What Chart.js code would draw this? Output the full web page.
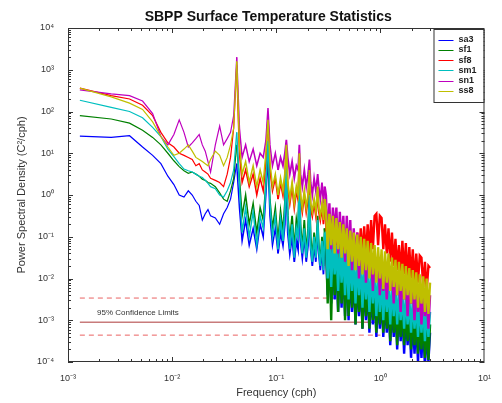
<!DOCTYPE html>
<html>
<head>
<meta charset="utf-8">
<script src="https://cdn.jsdelivr.net/npm/chart.js@4.4.1/dist/chart.umd.min.js"></script>
<style>
  html, body { margin: 0; padding: 0; background: #fff; }
</style>
</head>
<body>
<canvas id="grafico" width="502" height="403"></canvas>
<script>
// frecuencias (cph)
const frecuencias = [
  0.0013, 0.0026, 0.0039, 0.0052, 0.0065, 0.0078, 0.0091, 0.0104, 0.0117, 0.013,
  0.0143, 0.0156, 0.0169, 0.0182, 0.0195, 0.0208, 0.0221, 0.0234, 0.026, 0.0286,
  0.0312, 0.0338, 0.0364, 0.039, 0.0417,
  0.0443, 0.047, 0.0508, 0.055, 0.06, 0.065, 0.07, 0.075, 0.0795, 0.0833,
  0.087, 0.092, 0.098, 0.104, 0.11, 0.116, 0.121, 0.125, 0.129, 0.135,
  0.142, 0.149, 0.156, 0.162, 0.1667, 0.171, 0.178, 0.186, 0.194, 0.202,
  0.2083, 0.214, 0.222, 0.231, 0.24, 0.25, 0.256, 0.265, 0.275, 0.284, 0.2917,
  0.30, 0.312, 0.324, 0.337, 0.35, 0.364, 0.378, 0.393, 0.408, 0.424,
  0.441, 0.458, 0.476, 0.495, 0.514, 0.534, 0.555, 0.577, 0.6, 0.623,
  0.648, 0.673, 0.699, 0.727, 0.755, 0.785, 0.815, 0.847, 0.88, 0.915,
  0.951, 0.988, 1.027, 1.067, 1.108, 1.152, 1.197, 1.244, 1.292, 1.343,
  1.396, 1.45, 1.507, 1.566, 1.627, 1.691, 1.757, 1.826, 1.897, 1.971,
  2.048, 2.128, 2.212, 2.298, 2.388, 2.481, 2.578, 2.679, 2.784, 2.893, 3.0
];

// log10 de la densidad espectral
const sa3 = [
  1.41, 1.38, 1.42, 1.15, 0.95, 0.75, 0.45, 0.25, 0.0, -0.05, 0.1, 0.0, -0.15, -0.25, -0.6, -0.45, -0.35, -0.5, -0.55, -0.7, -0.45, -0.3, -0.1, 0.3, 0.75,
  -0.3, -1.1, -0.6, -1.2, -0.8, -1.3, -0.7, -1.0, 0.0, 0.9, -0.5, -1.2, -0.8, -1.4, -0.9, -1.2, -0.7, 0.5, -0.9, -1.4, -1.0, -1.6, -1.1, -1.3, 0.2,
  -1.1, -1.5, -1.0, -1.6, -1.2, -0.2, -1.3, -1.7, -1.2, -1.6, -0.8, -1.4, -1.8, -1.3, -1.9, -1.1,
  -1.2, -2.4, -1.3, -2.6, -1.4, -2.5, -1.5, -2.8, -1.55, -2.7, -1.65, -2.9, -1.7, -3.0, -1.8, -2.8, -1.9, -3.1, -1.95, -2.9,
  -2.05, -3.2, -2.1, -3.0, -2.2, -3.3, -2.25, -3.1, -2.3, -3.4, -2.4, -3.2, -2.5, -3.4, -2.55, -3.3, -2.6, -3.6, -2.65, -3.4,
  -2.7, -3.7, -2.75, -3.5, -2.8, -3.8, -2.85, -3.6, -2.9, -3.9, -3.0, -3.8, -3.05, -4.0, -3.1, -3.9, -3.15, -4.1, -3.2, -4.0, -3.3
];
const sf1 = [
  1.9, 1.82, 1.72, 1.55, 1.38, 1.2, 1.0, 0.82, 0.68, 0.58, 0.52, 0.55, 0.5, 0.45, 0.38, 0.35, 0.3, 0.28, 0.2, 0.05, -0.1, -0.15, 0.1, 0.4, 1.2,
  0.4, -0.5, 0.0, -0.7, -0.2, -0.9, -0.3, -0.6, 0.3, 1.1, -0.1, -0.8, -0.3, -1.1, -0.4, -0.9, -0.2, 0.8, -0.5, -1.1, -0.5, -1.3, -0.6, -0.9, 0.5,
  -0.7, -1.3, -0.6, -1.4, -0.8, 0.1, -1.0, -1.5, -0.9, -1.4, -0.5, -1.2, -1.6, -1.0, -1.7, -0.8,
  -1.0, -2.6, -1.1, -3.0, -1.2, -2.4, -1.3, -2.8, -1.35, -2.6, -1.45, -3.0, -1.5, -2.9, -1.6, -2.7, -1.7, -3.1, -1.75, -2.8,
  -1.85, -3.2, -1.9, -2.9, -2.0, -3.2, -2.05, -3.0, -2.1, -3.3, -2.2, -3.1, -2.3, -3.3, -2.35, -3.2, -2.4, -3.5, -2.45, -3.3,
  -2.5, -3.6, -2.55, -3.4, -2.6, -3.6, -2.65, -3.5, -2.7, -3.7, -2.8, -3.6, -2.85, -3.8, -2.9, -3.7, -2.95, -3.9, -3.0, -3.95, -3.1
];
const sf8 = [
  2.56, 2.38, 2.3, 2.15, 1.9, 1.5, 1.25, 1.15, 1.0, 0.95, 0.9, 0.85, 0.7, 0.75, 0.6, 0.55, 0.5, 0.4, 0.35, 0.3, 0.2, 0.5, 0.9, 1.6, 3.1,
  1.0, 0.3, 0.6, 0.2, 0.5, 0.0, 0.4, 0.1, 0.8, 1.9, 0.6, 0.1, 0.4, -0.1, 0.3, 0.0, 0.4, 1.1, 0.2, -0.2, 0.2, -0.3, 0.1, -0.1, 0.9,
  -0.1, -0.4, 0.0, -0.4, -0.1, 0.5, -0.3, -0.5, -0.2, -0.5, 0.1, -0.4, -0.6, -0.3, -0.7, -0.2,
  -0.6, -1.3, -0.7, -1.4, -0.8, -1.3, -0.8, -1.6, -0.9, -1.5, -0.95, -1.7, -1.0, -1.6, -0.95, -1.7, -0.9, -1.6, -0.9, -1.6,
  -0.8, -1.5, -0.75, -1.5, -0.7, -1.4, -0.6, -1.3, -0.5, -0.45, -1.2, -0.5, -0.55, -1.3, -0.7, -1.4, -0.8, -1.6, -0.9, -1.7,
  -1.05, -1.8, -1.2, -1.9, -1.1, -1.9, -1.15, -2.0, -1.25, -2.0, -1.3, -2.1, -1.4, -2.1, -1.45, -1.5, -2.2, -1.6, -2.3, -1.7, -1.75
];
const sm1 = [
  2.27, 2.1, 2.0, 1.85, 1.62, 1.4, 1.1, 0.92, 0.75, 0.62, 0.58, 0.55, 0.5, 0.45, 0.42, 0.35, 0.28, 0.2, 0.15, 0.0, -0.05, 0.1, 0.3, 0.6, 1.5,
  0.2, -0.9, -0.3, -1.0, -0.4, -1.2, -0.5, -0.8, 0.2, 1.3, -0.2, -1.0, -0.5, -1.3, -0.6, -1.1, -0.4, 0.7, -0.6, -1.3, -0.7, -1.5, -0.8, -1.0, 0.4,
  -0.9, -1.4, -0.8, -1.5, -1.0, 0.0, -1.2, -1.6, -1.0, -1.5, -0.6, -1.3, -1.7, -1.1, -1.8, -0.9,
  -0.9, -2.0, -1.0, -2.2, -1.1, -1.9, -1.2, -2.3, -1.2, -2.1, -1.3, -2.4, -1.35, -2.5, -1.4, -2.3, -1.5, -2.6, -1.55, -2.4,
  -1.6, -2.7, -1.7, -2.5, -1.75, -2.8, -1.8, -2.6, -1.85, -2.9, -1.9, -2.8, -2.0, -3.0, -2.05, -2.8, -2.1, -3.1, -2.15, -2.9,
  -2.2, -3.1, -2.3, -3.0, -2.35, -3.2, -2.4, -3.1, -2.45, -3.3, -2.5, -3.2, -2.55, -3.4, -2.6, -3.3, -2.65, -3.5, -2.7, -3.4, -2.8
];
const sn1 = [
  2.52, 2.42, 2.38, 2.25, 1.95, 1.4, 1.2, 1.45, 1.8, 1.5, 1.15, 1.25, 1.35, 1.45, 1.2, 1.05, 0.8, 0.55, 1.2, 1.65, 1.2, 1.35, 1.5, 1.9, 3.3,
  1.6, 0.9, 1.2, 0.8, 1.1, 0.7, 1.0, 0.9, 1.3, 2.08, 1.2, 0.7, 1.0, 0.6, 0.9, 0.7, 1.0, 1.32, 0.9, 0.5, 0.8, 0.4, 0.7, 0.6, 1.2,
  0.5, 0.2, 0.6, 0.2, 0.5, 0.85, 0.3, 0.0, 0.4, 0.1, 0.5, 0.2, -0.1, 0.3, -0.2, 0.2,
  0.0, -1.1, -0.2, -1.3, -0.3, -0.9, -0.3, -1.4, -0.4, -1.2, -0.5, -1.6, -0.5, -1.5, -0.6, -1.8, -0.8, -1.5, -0.9, -2.0,
  -1.1, -1.8, -1.2, -2.1, -1.3, -1.9, -1.4, -2.3, -1.5, -2.0, -1.5, -2.4, -1.6, -2.3, -1.7, -2.5, -1.8, -2.3, -1.8, -2.6,
  -1.9, -2.4, -2.0, -2.8, -2.0, -2.5, -2.1, -2.9, -2.1, -2.6, -2.2, -3.0, -2.2, -2.8, -2.3, -3.1, -2.3, -2.9, -2.4, -3.2, -2.4
];
const ss8 = [
  2.56, 2.35, 2.2, 2.05, 1.75, 1.4, 1.15, 0.95, 1.0, 1.1, 1.2, 1.05, 0.9, 0.85, 0.8, 0.75, 0.7, 0.85, 1.05, 0.95, 0.7, 0.9, 1.2, 1.6, 3.2,
  1.2, 0.5, 0.8, 0.3, 0.7, 0.2, 0.6, 0.3, 1.0, 1.8, 0.8, 0.2, 0.5, 0.0, 0.4, 0.1, 0.5, 1.2, 0.3, -0.1, 0.3, -0.2, 0.2, 0.0, 1.0,
  0.0, -0.3, 0.1, -0.3, 0.0, 0.6, -0.2, -0.4, -0.1, -0.4, 0.2, -0.3, -0.5, -0.2, -0.6, -0.1,
  -0.35, -1.3, -0.45, -1.2, -0.5, -1.4, -0.55, -1.3, -0.65, -1.5, -0.7, -1.4, -0.8, -1.7, -0.85, -1.6, -0.9, -1.8, -0.95, -1.7,
  -1.0, -1.9, -1.05, -1.8, -1.1, -2.0, -1.15, -1.9, -1.2, -2.1, -1.25, -2.0, -1.3, -2.25, -1.35, -2.1, -1.4, -2.3, -1.5, -2.2,
  -1.55, -2.4, -1.6, -2.3, -1.65, -2.5, -1.7, -2.4, -1.75, -2.6, -1.8, -2.5, -1.85, -2.7, -1.9, -2.6, -1.95, -2.8, -2.0, -2.85, -2.1
];

const nombres = ['sa3', 'sf1', 'sf8', 'sm1', 'sn1', 'ss8'];
const series = [sa3, sf1, sf8, sm1, sn1, ss8];
const colores = ['#0000ff', '#008000', '#ff0000', '#00bfbf', '#bf00bf', '#bfbf00'];

// limites de confianza 95% (superior, referencia, inferior)
const limitesConfianza = [3.4e-3, 9.0e-4, 4.4e-4];
const rangoConfianza = [0.0013, 1.0];

const ticksX = [1e-3, 1e-2, 1e-1, 1e0, 1e1];
const ticksY = [1e-4, 1e-3, 1e-2, 1e-1, 1e0, 1e1, 1e2, 1e3, 1e4];

const sup = { '-': '\u207B', '0': '\u2070', '1': '\u00B9', '2': '\u00B2', '3': '\u00B3', '4': '\u2074' };
function potencia(v) {
  const e = String(Math.round(Math.log10(v)));
  return '10' + e.split('').map(c => sup[c]).join('');
}

const fuente = "'Liberation Sans', Arial, sans-serif";
Chart.defaults.font.family = fuente;
Chart.defaults.color = '#333';

// grosor segun la densidad del espectro
function grosor(c) {
  const f = c.p0.parsed.x;
  if (f >= 0.29) return 2.4;
  if (f >= 0.1) return 1.8;
  if (f >= 0.0417) return 1.5;
  return 1.2;
}

const datasets = series.map((s, i) => ({
  label: nombres[i],
  data: frecuencias.map((f, k) => ({ x: f, y: Math.pow(10, s[k]) })),
  borderColor: colores[i],
  borderWidth: 1.2,
  borderJoinStyle: 'miter',
  segment: { borderWidth: grosor },
  pointRadius: 0,
  fill: false,
  // el ultimo se dibuja encima (como en MATLAB)
  order: series.length - i
}));

limitesConfianza.forEach((v, i) => {
  datasets.push({
    label: 'conf' + i,
    data: rangoConfianza.map(f => ({ x: f, y: v })),
    borderColor: i === 1 ? 'rgba(190,100,100,0.85)' : 'rgba(230,70,70,0.85)',
    borderWidth: i === 1 ? 1.5 : 1,
    borderDash: i === 1 ? [] : [5, 4],
    pointRadius: 0,
    fill: false,
    order: 20
  });
});

const marco = {
  id: 'marco',
  afterDraw(chart) {
    const { ctx, chartArea: a, scales: { x, y } } = chart;
    ctx.save();
    ctx.strokeStyle = '#333';
    ctx.lineWidth = 1;
    ctx.strokeRect(a.left + 0.5, a.top + 0.5, a.right - a.left - 1, a.bottom - a.top - 1);

    // marcas hacia dentro
    ctx.beginPath();
    for (let e = -3; e < 1; e++) {
      for (let m = 1; m < 10; m++) {
        const px = Math.round(x.getPixelForValue(m * Math.pow(10, e))) + 0.5;
        const len = m === 1 ? 5 : 3;
        ctx.moveTo(px, a.bottom); ctx.lineTo(px, a.bottom - len);
        ctx.moveTo(px, a.top); ctx.lineTo(px, a.top + len);
      }
    }
    for (let e = -4; e < 4; e++) {
      for (let m = 1; m < 10; m++) {
        const py = Math.round(y.getPixelForValue(m * Math.pow(10, e))) + 0.5;
        const len = m === 1 ? 5 : 3;
        ctx.moveTo(a.left, py); ctx.lineTo(a.left + len, py);
        ctx.moveTo(a.right, py); ctx.lineTo(a.right - len, py);
      }
    }
    ctx.stroke();

    // titulo
    ctx.fillStyle = '#111';
    ctx.font = 'bold 14px ' + fuente;
    ctx.textAlign = 'center';
    ctx.textBaseline = 'middle';
    ctx.fillText('SBPP Surface Temperature Statistics', (a.left + a.right) / 2 - 8, 17);

    // etiqueta de confianza
    ctx.font = '8px ' + fuente;
    ctx.textAlign = 'left';
    ctx.fillStyle = '#333';
    ctx.fillText('95% Confidence Limits', x.getPixelForValue(0.0019), y.getPixelForValue(1.5e-3));

    // leyenda
    const lw = 50, lh = 73;
    const lx = a.right - lw - 1, ly = a.top + 1;
    ctx.fillStyle = '#fff';
    ctx.fillRect(lx, ly, lw, lh);
    ctx.strokeStyle = '#333';
    ctx.strokeRect(lx + 0.5, ly + 0.5, lw, lh);
    ctx.font = 'bold 9px ' + fuente;
    ctx.textBaseline = 'middle';
    nombres.forEach((n, i) => {
      const yy = ly + 10.5 + i * 10.3;
      ctx.strokeStyle = colores[i];
      ctx.beginPath();
      ctx.moveTo(lx + 5, Math.round(yy) + 0.5);
      ctx.lineTo(lx + 20, Math.round(yy) + 0.5);
      ctx.stroke();
      ctx.fillStyle = '#222';
      ctx.fillText(n, lx + 25, yy);
    });
    ctx.restore();
  }
};

new Chart(document.getElementById('grafico'), {
  type: 'line',
  data: { datasets },
  options: {
    responsive: false,
    animation: false,
    layout: { padding: { top: 28, right: 9, left: 0, bottom: 0 } },
    plugins: { legend: { display: false }, tooltip: { enabled: false } },
    scales: {
      x: {
        type: 'logarithmic',
        min: 1e-3,
        max: 1e1,
        grid: { display: false, drawTicks: false },
        border: { display: false },
        afterBuildTicks: s => { s.ticks = ticksX.map(v => ({ value: v })); },
        afterFit: s => { s.height = 41; },
        ticks: { font: { size: 9 }, padding: 11, maxRotation: 0, autoSkip: false, callback: v => potencia(v) },
        title: { display: true, text: 'Frequency (cph)', font: { size: 11 }, padding: { top: 0, bottom: 3 } }
      },
      y: {
        type: 'logarithmic',
        min: 1e-4,
        max: 1e4,
        grid: { display: false, drawTicks: false },
        border: { display: false },
        afterBuildTicks: s => { s.ticks = ticksY.map(v => ({ value: v })); },
        afterFit: s => { s.width = 68; },
        ticks: { font: { size: 9 }, padding: 14, autoSkip: false, callback: v => potencia(v) },
        title: { display: true, text: 'Power Spectral Density (C\u00B2/cph)', font: { size: 11 }, padding: { top: 15, bottom: 0 } }
      }
    }
  },
  plugins: [marco]
});
</script>
</body>
</html>
